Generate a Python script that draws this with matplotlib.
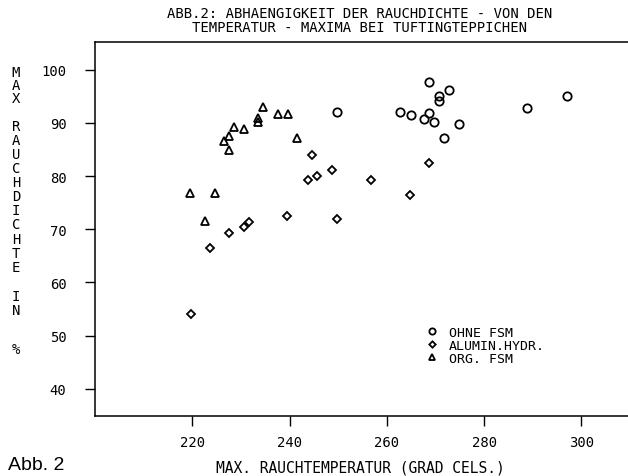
import matplotlib
matplotlib.use("Agg")
import matplotlib.pyplot as plt

# (temperature in deg C, max smoke density in %)
ohne_x = [249.7, 262.8, 264.9, 268.7, 272.8, 270.8, 270.8, 268.7, 267.7, 269.7, 274.8, 271.8, 288.8, 297.0]
ohne_y = [92.0, 92.1, 91.4, 97.7, 96.1, 95.1, 94.1, 91.8, 90.7, 90.1, 89.8, 87.1, 92.8, 95.0]

alu_x = [219.7, 223.6, 227.6, 230.6, 231.7, 239.5, 244.6, 243.7, 245.7, 248.7, 249.8, 256.7, 264.7, 268.7]
alu_y = [54.0, 66.4, 69.3, 70.4, 71.3, 72.5, 84.0, 79.3, 80.0, 81.1, 72.0, 79.3, 76.4, 82.5]

org_x = [219.5, 222.6, 224.7, 226.5, 227.5, 227.5, 228.6, 230.6, 233.5, 233.5, 234.5, 237.6, 239.7, 241.5]
org_y = [76.9, 71.6, 76.9, 86.6, 87.6, 84.9, 89.2, 88.9, 90.2, 91.0, 93.0, 91.7, 91.7, 87.2]

x_ticks = [220, 240, 260, 280, 300]
y_ticks = [40, 50, 60, 70, 80, 90, 100]

W, H = 628, 477
mono = "DejaVu Sans Mono"

fig = plt.figure(figsize=(W / 100, H / 100), dpi=100)
ax = fig.add_axes([95 / W, (H - 417) / H, (630 - 95) / W, (417 - 43) / H])

mk = dict(linestyle="none", markerfacecolor="none", markeredgecolor="black", markeredgewidth=1.3)
ax.plot(ohne_x, ohne_y, marker="o", markersize=6, label="OHNE FSM", **mk)
ax.plot(alu_x, alu_y, marker="D", markersize=4.3, label="ALUMIN.HYDR.", **mk)
ax.plot(org_x, org_y, marker="^", markersize=6, label="ORG. FSM", **mk)

ax.set_xlim(200, 310)
ax.set_ylim(34.9, 105.2)
ax.set_xticks(x_ticks)
ax.set_yticks(y_ticks)
ax.set_xticklabels([str(v) for v in x_ticks], family=mono, fontsize=10)
ax.set_yticklabels([str(v) for v in y_ticks], family=mono, fontsize=10)
ax.tick_params(axis="x", direction="out", length=7.5, width=1, pad=6)
ax.tick_params(axis="y", direction="out", length=7.5, width=1, pad=13)
for s in ax.spines.values():
    s.set_linewidth(1.1)
ax.spines["right"].set_visible(False)

leg = ax.legend(loc="upper left", bbox_to_anchor=(426 / W, 1 - 327 / H),
                bbox_transform=fig.transFigure, frameon=False,
                prop={"family": mono, "size": 9.5}, markerscale=0.75,
                handlelength=0.9, handletextpad=0.85, labelspacing=0.0,
                borderpad=0, borderaxespad=0)

# title (two lines)
fig.text(360 / W, 1 - 14 / H, "ABB.2: ABHAENGIGKEIT DER RAUCHDICHTE - VON DEN",
         family=mono, fontsize=10, ha="center", va="center")
fig.text(360 / W, 1 - 28 / H, "TEMPERATUR - MAXIMA BEI TUFTINGTEPPICHEN",
         family=mono, fontsize=10, ha="center", va="center")

# x label
fig.text(360 / W, 1 - 468 / H, "MAX. RAUCHTEMPERATUR (GRAD CELS.)",
         family=mono, fontsize=10.5, ha="center", va="center")

# stacked y label
ylab = "MAXRAUCHDICHTEIN%"
ylab_pos = [73, 86, 99, 127, 141, 155, 169, 183, 197, 211, 225, 240, 254, 268, 297, 311, 350]
for ch, yp in zip(ylab, ylab_pos):
    fig.text(16 / W, 1 - yp / H, ch, family=mono, fontsize=10, ha="center", va="center")

fig.text(8 / W, 1 - 466 / H, "Abb. 2", family="Liberation Sans", fontsize=14,
         ha="left", va="center")

fig.savefig("out.png", dpi=100)
